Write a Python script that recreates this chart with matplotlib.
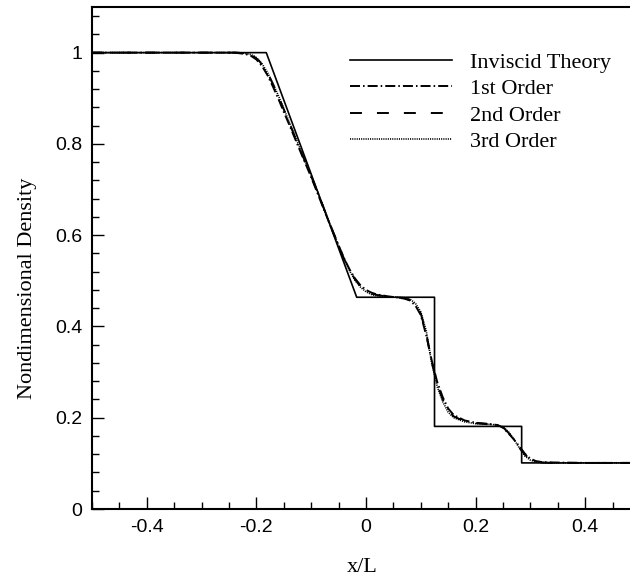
import matplotlib
matplotlib.use("Agg")
import matplotlib.pyplot as plt
from matplotlib.ticker import MultipleLocator

# --- data ---
# inviscid (exact) solution, piecewise
theory_x = [-0.50, -0.182, -0.017, 0.125, 0.125, 0.284, 0.284, 0.489]
theory_y = [1.000, 1.000, 0.464, 0.464, 0.181, 0.181, 0.101, 0.101]

# numerical solutions (all three nearly on top of each other)
o1_x = [-0.50, -0.24, -0.22, -0.21, -0.20, -0.19, -0.18, -0.17, -0.16, -0.15, -0.14, -0.12,
        -0.10, -0.08, -0.06, -0.04, -0.03, -0.02, -0.01, 0.00, 0.01, 0.02, 0.04, 0.06, 0.07,
        0.08, 0.09, 0.10, 0.11, 0.12, 0.13, 0.14, 0.15, 0.16, 0.18, 0.20, 0.22, 0.24, 0.25,
        0.26, 0.27, 0.28, 0.29, 0.30, 0.31, 0.32, 0.34, 0.40, 0.489]
o1_y = [1.000, 1.000, 0.997, 0.993, 0.985, 0.971, 0.951, 0.926, 0.899, 0.870, 0.842, 0.784,
        0.727, 0.666, 0.606, 0.549, 0.525, 0.505, 0.490, 0.480, 0.474, 0.470, 0.466, 0.463, 0.461,
        0.457, 0.446, 0.425, 0.380, 0.325, 0.278, 0.245, 0.220, 0.206, 0.194, 0.189, 0.187, 0.184,
        0.178, 0.166, 0.152, 0.137, 0.121, 0.110, 0.105, 0.103, 0.102, 0.101, 0.101]

o2_x = [-0.50, -0.235, -0.215, -0.205, -0.195, -0.185, -0.175, -0.165, -0.155, -0.145, -0.14,
        -0.12, -0.10, -0.08, -0.06, -0.04, -0.03, -0.02, -0.01, 0.00, 0.01, 0.02, 0.04, 0.06,
        0.07, 0.08, 0.09, 0.10, 0.11, 0.12, 0.13, 0.14, 0.15, 0.16, 0.18, 0.20, 0.22, 0.24,
        0.25, 0.26, 0.27, 0.28, 0.29, 0.30, 0.31, 0.32, 0.34, 0.40, 0.489]
o2_y = [1.000, 1.000, 0.997, 0.992, 0.982, 0.966, 0.944, 0.918, 0.890, 0.861, 0.846,
        0.787, 0.729, 0.668, 0.607, 0.548, 0.524, 0.503, 0.488, 0.478, 0.472, 0.469, 0.465, 0.463,
        0.462, 0.458, 0.448, 0.428, 0.384, 0.322, 0.274, 0.240, 0.216, 0.203, 0.192, 0.188, 0.186,
        0.184, 0.179, 0.167, 0.152, 0.135, 0.119, 0.109, 0.104, 0.102, 0.101, 0.101, 0.101]

o3_x = [-0.50, -0.23, -0.21, -0.20, -0.19, -0.18, -0.17, -0.16, -0.15, -0.14, -0.12,
        -0.10, -0.08, -0.06, -0.04, -0.03, -0.02, -0.01, 0.00, 0.01, 0.02, 0.04, 0.06, 0.07,
        0.08, 0.09, 0.10, 0.11, 0.12, 0.13, 0.14, 0.15, 0.16, 0.18, 0.20, 0.22, 0.24, 0.25,
        0.26, 0.27, 0.28, 0.29, 0.30, 0.31, 0.32, 0.34, 0.40, 0.489]
o3_y = [1.000, 1.000, 0.996, 0.989, 0.976, 0.957, 0.933, 0.906, 0.877, 0.848, 0.789,
        0.731, 0.669, 0.607, 0.547, 0.522, 0.501, 0.486, 0.476, 0.470, 0.467, 0.465, 0.464, 0.463,
        0.460, 0.451, 0.432, 0.390, 0.318, 0.268, 0.235, 0.212, 0.200, 0.191, 0.187, 0.186, 0.184,
        0.180, 0.169, 0.153, 0.133, 0.116, 0.107, 0.103, 0.102, 0.101, 0.101, 0.101]

labels = ["Inviscid Theory", "1st Order", "2nd Order", "3rd Order"]

plt.rcParams["lines.scale_dashes"] = False
serif = ["Liberation Serif", "DejaVu Serif"]
sans = ["Liberation Sans", "DejaVu Sans"]

fig = plt.figure(figsize=(6.3, 5.85), dpi=100)
W, H = 630, 585
left, right, bottom, top = 92, 634, 509, 7
ax = fig.add_axes([left / W, (H - bottom) / H, (right - left) / W, (bottom - top) / H])

ax.plot(theory_x, theory_y, color="black", lw=1.2, ls="-", label=labels[0])
ax.plot(o1_x, o1_y, color="black", lw=1.4, ls=(0, (7.2, 2.2, 1.1, 2.2)), label=labels[1])
ax.plot(o2_x, o2_y, color="black", lw=1.4, ls=(0, (8.6, 10.8)), label=labels[2])
ax.plot(o3_x, o3_y, color="black", lw=1.2, ls=(0, (0.8, 0.8)), label=labels[3])

ax.set_xlim(-0.5, 0.489)
ax.set_ylim(0, 1.1)
ax.xaxis.set_major_locator(MultipleLocator(0.2))
ax.xaxis.set_minor_locator(MultipleLocator(0.05))
ax.yaxis.set_major_locator(MultipleLocator(0.2))
ax.yaxis.set_minor_locator(MultipleLocator(0.04))
ax.xaxis.set_major_formatter(plt.FuncFormatter(lambda v, p: "0" if abs(v) < 1e-9 else f"{v:g}"))
ax.yaxis.set_major_formatter(plt.FuncFormatter(lambda v, p: "0" if abs(v) < 1e-9 else f"{v:g}"))

ax.tick_params(which="both", direction="in", top=False, right=False, width=1.0)
ax.tick_params(which="major", length=8.6, pad=7, labelsize=14)
ax.tick_params(which="minor", length=4.7)
for lab in ax.get_xticklabels() + ax.get_yticklabels():
    lab.set_fontfamily(sans)
for s in ax.spines.values():
    s.set_linewidth(1.5)

fig.text(362 / W, (H - 567) / H, "x/L", family=serif, fontsize=16, ha="center", va="center")
fig.text(28 / W, (H - 288) / H, "Nondimensional Density", family=serif, fontsize=16,
         rotation=90, ha="center", va="center")

leg = ax.legend(loc="upper left", bbox_to_anchor=(350 / W, (H - 52) / H),
                bbox_transform=fig.transFigure, frameon=False,
                prop={"family": serif, "size": 16}, handlelength=4.6, handletextpad=0.8,
                labelspacing=0.27, borderpad=0, borderaxespad=0)

fig.savefig("out.png", dpi=100)
